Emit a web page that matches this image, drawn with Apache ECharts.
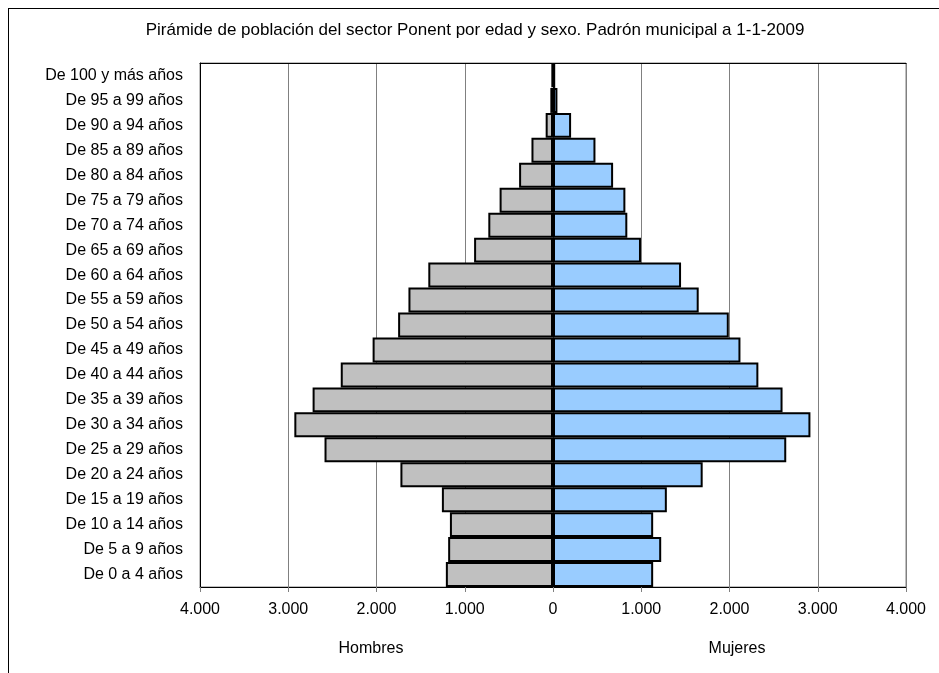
<!DOCTYPE html>
<html>
<head>
<meta charset="utf-8">
<script src="https://cdn.jsdelivr.net/npm/echarts@6/dist/echarts.min.js"></script>
<style>
html,body{margin:0;padding:0;background:#fff;}
#frame{position:absolute;left:8px;top:8px;width:931px;height:665px;border-left:1px solid #000;border-top:1px solid #000;}
#chart{position:absolute;left:0;top:0;width:939px;height:673px;}
</style>
</head>
<body>
<div id="frame"></div>
<div id="chart"></div>
<script>
const titleText = 'Pirámide de población del sector Ponent por edad y sexo. Padrón municipal a 1-1-2009';
const categories = [
  'De 0 a 4 años','De 5 a 9 años','De 10 a 14 años','De 15 a 19 años','De 20 a 24 años',
  'De 25 a 29 años','De 30 a 34 años','De 35 a 39 años','De 40 a 44 años','De 45 a 49 años',
  'De 50 a 54 años','De 55 a 59 años','De 60 a 64 años','De 65 a 69 años','De 70 a 74 años',
  'De 75 a 79 años','De 80 a 84 años','De 85 a 89 años','De 90 a 94 años','De 95 a 99 años',
  'De 100 y más años'
];
const hombres = [1214, 1188, 1168, 1259, 1729, 2589, 2931, 2724, 2405, 2044, 1755, 1638, 1413, 894, 733, 605, 384, 244, 83, 30, 15];
const mujeres = [1135, 1226, 1135, 1290, 1696, 2643, 2917, 2601, 2327, 2124, 1992, 1651, 1451, 997, 842, 820, 681, 481, 205, 50, 25];
const axisLabels = { male: 'Hombres', female: 'Mujeres' };

function fmt(v){
  const a = Math.abs(v);
  return a >= 1000 ? Math.floor(a/1000) + '.' + String(a%1000).padStart(3,'0') : String(a);
}
const FONT = 'Liberation Sans, Arial, sans-serif';

const chart = echarts.init(document.getElementById('chart'), null, {renderer:'canvas'});
chart.setOption({
  animation:false,
  backgroundColor:'transparent',
  title:{
    text:titleText, left:470, top:17, textAlign:'center',
    textStyle:{fontFamily:FONT, fontSize:17, fontWeight:'normal', color:'#000'}
  },
  graphic:[
    {type:'text', x:371, y:649, style:{text:axisLabels.male, font:'16px "Liberation Sans", Arial, sans-serif', fill:'#000', align:'center', verticalAlign:'middle'}},
    {type:'text', x:737, y:649, style:{text:axisLabels.female, font:'16px "Liberation Sans", Arial, sans-serif', fill:'#000', align:'center', verticalAlign:'middle'}}
  ],
  grid:{left:200, top:63, width:706, height:524, show:true, borderColor:'#808080', borderWidth:1, containLabel:false},
  xAxis:[{
    type:'value', min:-4000, max:4000, interval:1000,
    axisLine:{show:true, lineStyle:{color:'#000', width:1}},
    axisTick:{show:true, length:5, lineStyle:{color:'#808080'}},
    splitLine:{show:true, lineStyle:{color:'#808080', width:1}},
    axisLabel:{formatter:fmt, margin:15, fontFamily:FONT, fontSize:16, color:'#000'}
  },{
    type:'value', min:-4000, max:4000, interval:1000, position:'top',
    axisLine:{show:true, lineStyle:{color:'#000', width:1}},
    axisTick:{show:false}, splitLine:{show:false}, axisLabel:{show:false}
  }],
  yAxis:{
    type:'category', data:categories,
    axisLine:{show:true, onZero:false, lineStyle:{color:'#000', width:1}},
    axisTick:{show:false},
    axisLabel:{margin:17, fontFamily:FONT, fontSize:16, color:'#000'}
  },
  series:[
    {name:'Hombres', type:'bar', stack:'p', xAxisIndex:0, data:hombres.map(v=>-v), barCategoryGap:'0%',
     itemStyle:{color:'#C0C0C0', borderColor:'#000', borderWidth:2}},
    {name:'Mujeres', type:'bar', stack:'p', xAxisIndex:0, data:mujeres, barCategoryGap:'0%',
     itemStyle:{color:'#99CCFF', borderColor:'#000', borderWidth:2}}
  ]
});
</script>
</body>
</html>
